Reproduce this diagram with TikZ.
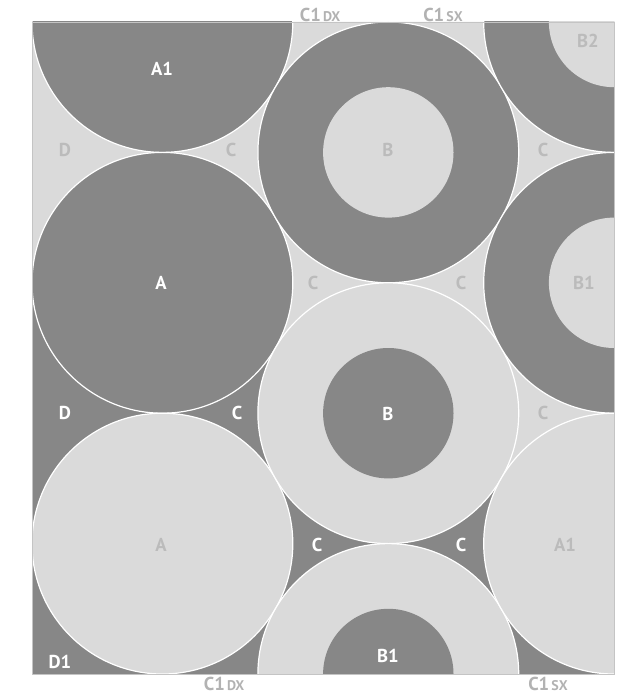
\documentclass[tikz,border=0pt]{standalone}
\usepackage{fontspec}
\setmainfont{PT Sans}
\definecolor{dk}{HTML}{878787}
\definecolor{lt}{HTML}{DADADA}
\definecolor{lbl}{HTML}{BBBBBB}
\definecolor{outl}{HTML}{B2B2B2}
\definecolor{edge}{HTML}{C4C4C4}
\begin{document}
\begin{tikzpicture}[x=0.75pt,y=-0.75pt,
  lab/.style={font=\bfseries\fontsize{14}{16}\selectfont, inner sep=0pt},
  ondark/.style={lab,text=white},
  onlight/.style={lab,text=lbl},
  outside/.style={lab,text=outl},
  ring/.style={draw=white,line width=0.9pt}]
\useasboundingbox (0,0) rectangle (627,698);
\def\R{130.4}
\def\r{65.2}
\newcommand{\smallcap}[1]{\hspace{1.6pt}{\fontsize{10.5}{12}\selectfont #1}}
% centres
\coordinate (a1) at (162.4,22);
\coordinate (a)  at (162.4,282.8);
\coordinate (ab) at (162.4,543.6);
\coordinate (bt) at (388.3,152.4);
\coordinate (bm) at (388.3,413.2);
\coordinate (bb) at (388.3,674);
\coordinate (b2) at (614.1,22);
\coordinate (br) at (614.1,282.8);
\coordinate (ar) at (614.1,543.6);
\begin{scope}
\clip (32,22) rectangle (614.1,674);
\fill[dk] (32,22) rectangle (614.1,674);
\fill[lt] (32,22) -- (614.1,22) -- (614.1,413.2) -- (501.2,478.4) -- (bm)
  -- (275.35,348) -- (a) -- (32,282.8) -- cycle;
% left column
\path[ring,fill=dk] (a1) circle[radius=\R];
\path[ring,fill=dk] (a)  circle[radius=\R];
\path[ring,fill=lt] (ab) circle[radius=\R];
% middle column
\path[ring,fill=dk] (bt) circle[radius=\R];
\fill[lt] (bt) circle[radius=\r];
\path[ring,fill=lt] (bm) circle[radius=\R];
\fill[dk] (bm) circle[radius=\r];
\path[ring,fill=lt] (bb) circle[radius=\R];
\fill[dk] (bb) circle[radius=\r];
% right column
\path[ring,fill=dk] (b2) circle[radius=\R];
\fill[lt] (b2) circle[radius=\r];
\path[ring,fill=dk] (br) circle[radius=\R];
\fill[lt] (br) circle[radius=\r];
\path[ring,fill=lt] (ar) circle[radius=\R];
\end{scope}
\draw[edge,line width=0.3pt] (32,22) rectangle (614.1,674);
% labels
\node[ondark]  (tA1) at (162,69) {A1};
\node[onlight] (tD1) at (65,150) {D};
\node[onlight] (tC1) at (231,150) {C};
\node[onlight] (tB1) at (388,150) {B};
\node[onlight] (tC2) at (543,150) {C};
\node[onlight] (tB2) at (588,41) {B2};
\node[ondark]  (tA)  at (161,283) {A};
\node[onlight] (tC3) at (313,283) {C};
\node[onlight] (tC4) at (461,283) {C};
\node[onlight] (tBr) at (584,283) {B1};
\node[ondark]  (tD2) at (65,413) {D};
\node[ondark]  (tC5) at (237,413) {C};
\node[ondark]  (tBm) at (388,414) {B};
\node[onlight] (tC6) at (543,413) {C};
\node[onlight] (tAb) at (161,545) {A};
\node[ondark]  (tC7) at (317,545) {C};
\node[ondark]  (tC8) at (461,545) {C};
\node[onlight] (tAr) at (565,545) {A1};
\node[ondark]  (tD3) at (60,662) {D1};
\node[ondark]  (tBb) at (388,656) {B1};
\node[outside] (oTL) at (320,14.5) {C1\smallcap{DX}};
\node[outside] (oTR) at (443,14.5) {C1\smallcap{SX}};
\node[outside] (oBL) at (224,684) {C1\smallcap{DX}};
\node[outside] (oBR) at (548,684) {C1\smallcap{SX}};
\end{tikzpicture}
\end{document}
